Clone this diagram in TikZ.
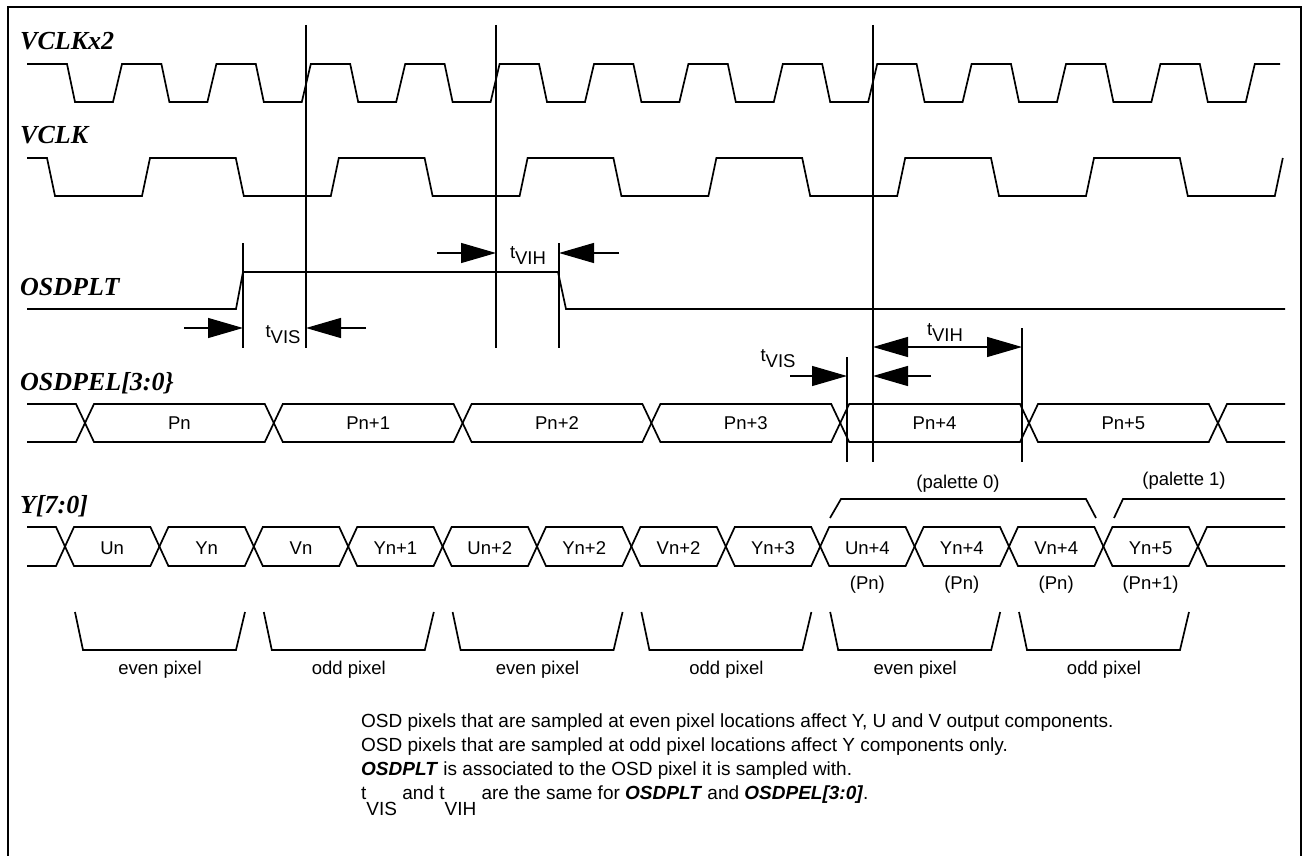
\documentclass[tikz,border=0pt]{standalone}
\usepackage{fontspec}
\setmainfont{Liberation Sans}
\newfontfamily\signalfont{Liberation Serif}
\usetikzlibrary{
    arrows.meta,
    calc,
    positioning
}
\tikzstyle{timearrow}=[line width=1.3pt,-{Triangle[length=35pt,width=20pt]}]
\tikzstyle{timeboth}=[line width=1.3pt,{Triangle[length=35pt,width=20pt]}-{Triangle[length=35pt,width=20pt]}]
\newcommand{\tsub}[1]{t\raisebox{-6pt}{#1}}

\begin{document}
\begin{tikzpicture}[
    x=1pt, y=-1pt,
    wave/.style={line width=1.7pt, line join=miter},
    refline/.style={line width=1.3pt},
    signame/.style={anchor=base west, inner sep=0pt,
        font=\signalfont\bfseries\itshape\fontsize{26}{26}\selectfont},
    buslabel/.style={anchor=base, inner sep=0pt, font=\fontsize{18.5}{22}\selectfont},
    note/.style={anchor=base west, inner sep=0pt, font=\fontsize{19}{24}\selectfont}
]
\useasboundingbox (0,0) rectangle (1310,856);
\draw[line width=2.7pt] (8,856) -- (8,7) -- (1301,7) -- (1301,856);

% signal names
\node[signame] (vclkx2) at (20,50) {VCLKx2};
\node[signame] (vclk) at (20,144) {VCLK};
\node[signame] (osdplt) at (20,295) {OSDPLT};
\node[signame] (osdpel) at (20,390) {OSDPEL[3:0\}};
\node[signame] (ybus) at (20,513) {Y[7:0]};

% clocks
\draw[wave] (27,64) \foreach \k in {0,...,12}{
    -- ({67+94.4*\k},64) -- ({75+94.4*\k},102)
    -- ({113+94.4*\k},102) -- ({122+94.4*\k},64)} -- (1280,64);
\draw[wave] (27,158) \foreach \k in {0,...,6}{
    -- ({47+188.8*\k},158) -- ({55+188.8*\k},196)
    -- ({142+188.8*\k},196) -- ({150+188.8*\k},158)};

% OSDPLT
\draw[wave] (27,309) -- (236,309) -- (243,272) -- (558,272) -- (566,309) -- (1285,309);

% OSDPEL[3:0}
\draw[wave] (27,404) -- (76,404) -- (85,423) -- (76,442) -- (27,442);
\foreach \lab [count=\i from 0] in {Pn,Pn+1,Pn+2,Pn+3,Pn+4,Pn+5}{
    \pgfmathsetmacro\a{85+188.8*\i}
    \pgfmathsetmacro\b{\a+188.8}
    \draw[wave] (\a,423) -- (\a+9,404) -- (\b-9,404) -- (\b,423)
        -- (\b-9,442) -- (\a+9,442) -- cycle;
    \node[buslabel] (pel\i) at (\a+94.4,429) {\lab};
}
\draw[wave] (1285,404) -- (1227,404) -- (1218,423) -- (1227,442) -- (1285,442);

% Y[7:0]
\draw[wave] (27,527) -- (56,527) -- (65,546.5) -- (56,566) -- (27,566);
\foreach \lab [count=\i from 0] in {Un,Yn,Vn,Yn+1,Un+2,Yn+2,Vn+2,Yn+3,Un+4,Yn+4,Vn+4,Yn+5}{
    \pgfmathsetmacro\a{65+94.4*\i}
    \pgfmathsetmacro\b{\a+94.4}
    \draw[wave] (\a,546.5) -- (\a+9,527) -- (\b-9,527) -- (\b,546.5)
        -- (\b-9,566) -- (\a+9,566) -- cycle;
    \node[buslabel] (y\i) at (\a+47.2,554) {\lab};
}
\draw[wave] (1285,527) -- (1207,527) -- (1198,546.5) -- (1207,566) -- (1285,566);
\foreach \lab/\k in {Pn/8,Pn/9,Pn/10,Pn+1/11}
    \node[buslabel] (src\k) at ({112.2+94.4*\k},589) {(\lab)};

% palettes
\draw[wave] (830,518) -- (841,499) -- (1086,499) -- (1096,518);
\draw[wave] (1114,518) -- (1123,499) -- (1285,499);
\node[buslabel] (pal0) at (958,488) {(palette 0)};
\node[buslabel] (pal1) at (1184,485) {(palette 1)};

% pixel groups
\foreach \lab [count=\i from 0] in {even,odd,even,odd,even,odd}{
    \pgfmathsetmacro\s{75+188.8*\i}
    \draw[wave] (\s,612) -- (\s+8,650) -- (\s+161,650) -- (\s+170,612);
    \node[buslabel] (pix\i) at (\s+85,674) {\lab\ pixel};
}

% reference lines and edge marks
\coordinate (refA) at (306,25);
\coordinate (refB) at (496,25);
\coordinate (refC) at (873,25);
\coordinate (tickA) at (243,243);
\coordinate (tickB) at (559,243);
\coordinate (tickC) at (847,357);
\coordinate (tickD) at (1022,328);
\draw[refline] (refA) -- (refA |- 0,348);
\draw[refline] (refB) -- (refB |- 0,348);
\draw[refline] (refC) -- (refC |- 0,462);
\draw[refline] (tickA) -- (tickA |- 0,348);
\draw[refline] (tickB) -- (tickB |- 0,348);
\draw[refline] (tickC) -- (tickC |- 0,462);
\draw[refline] (tickD) -- (tickD |- 0,462);

% setup and hold
\coordinate (visL) at (184,328);
\coordinate (visR) at (366,328);
\coordinate (vihL) at (437,253);
\coordinate (vihR) at (619,253);
\coordinate (pvisL) at (790,376);
\coordinate (pvisR) at (931,376);
\coordinate (pvih) at (873,347);
\draw[timearrow] (visL) -- (visL -| tickA);
\draw[timearrow] (visR) -- (visR -| refA);
\draw[timearrow] (vihL) -- (vihL -| refB);
\draw[timearrow] (vihR) -- (vihR -| tickB);
\draw[timearrow] (pvisL) -- (pvisL -| tickC);
\draw[timearrow] (pvisR) -- (pvisR -| refC);
\draw[timeboth] (pvih) -- (pvih -| tickD);
\node[buslabel] (tvisA) at (283,337) {\tsub{VIS}};
\node[buslabel] (tvihA) at (528,258) {\tsub{VIH}};
\node[buslabel] (tvisB) at (778,361) {\tsub{VIS}};
\node[buslabel] (tvihB) at (945,335) {\tsub{VIH}};

% notes
\node[note] (noteA) at (361,727) {OSD pixels that are sampled at even pixel locations affect Y, U and V output components.};
\node[note] (noteB) at (361,751) {OSD pixels that are sampled at odd pixel locations affect Y components only.};
\node[note] (noteC) at (361,775) {\textbf{\textit{OSDPLT}} is associated to the OSD pixel it is sampled with.};
\node[note] (noteD) at (361,799) {t\raisebox{-16pt}{VIS} and t\raisebox{-16pt}{VIH} are the same for \textbf{\textit{OSDPLT}} and \textbf{\textit{OSDPEL[3:0]}}.};
\end{tikzpicture}
\end{document}
